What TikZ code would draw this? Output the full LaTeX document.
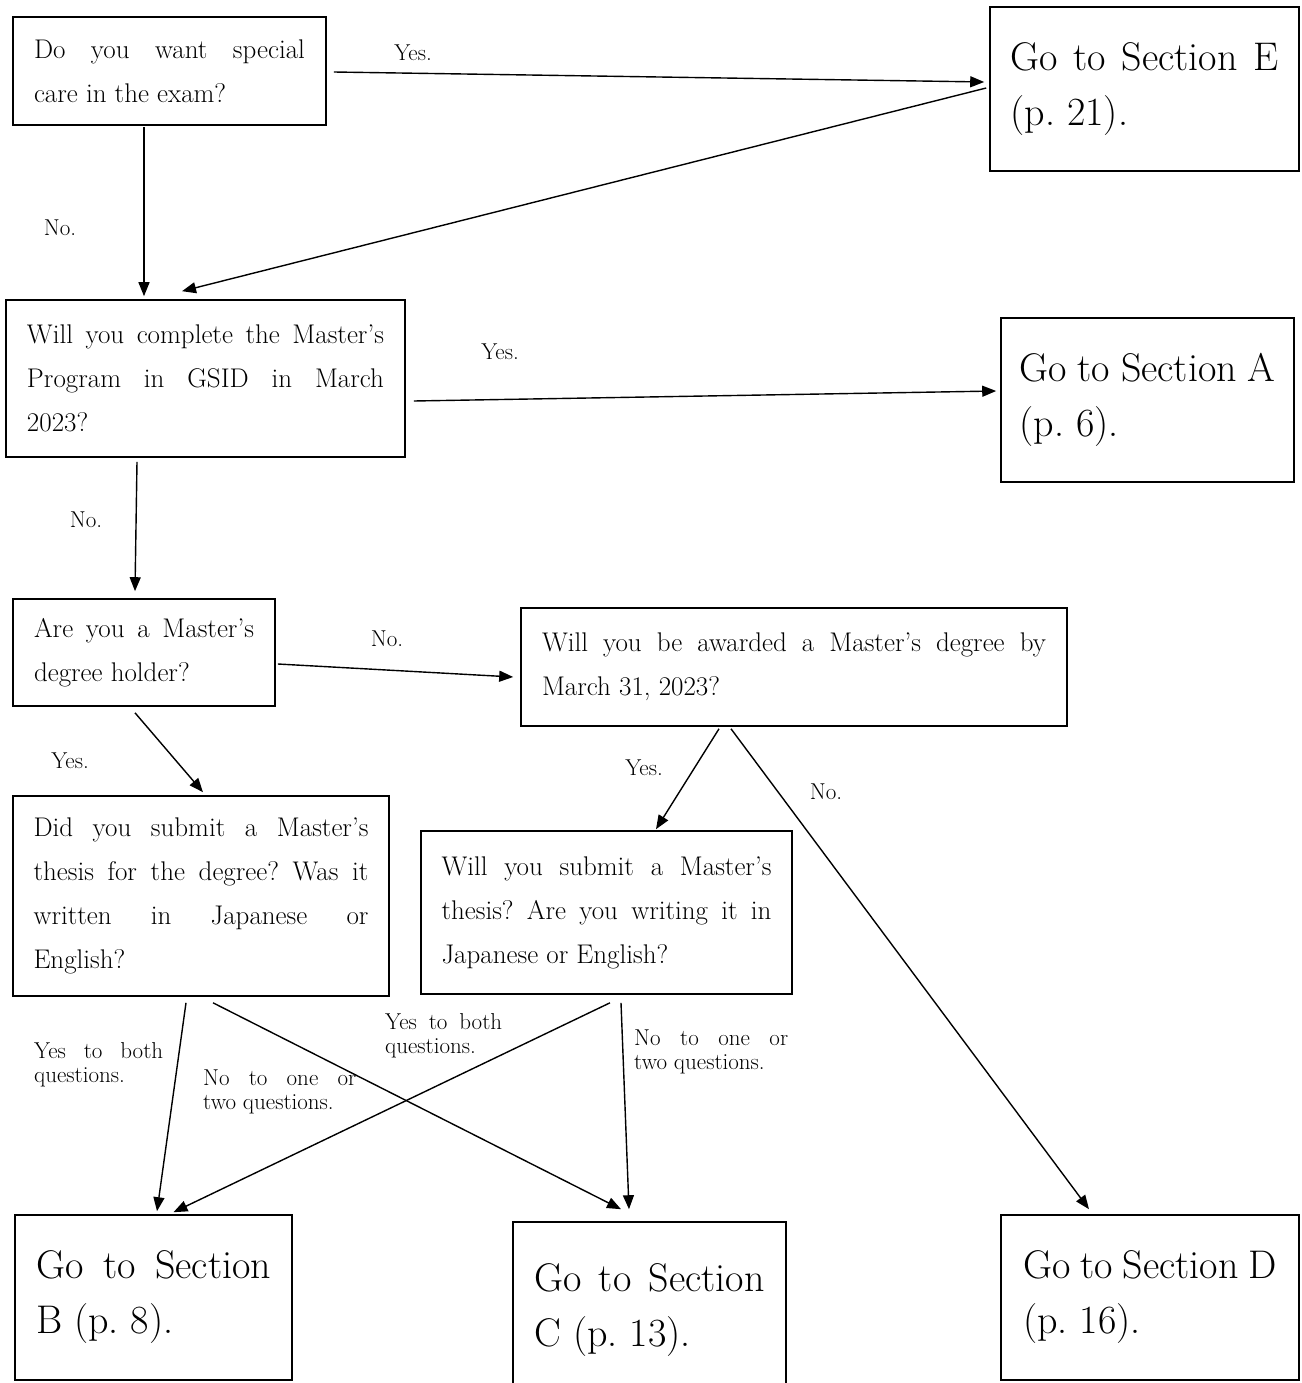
\documentclass[tikz,border=0pt]{standalone}
\usepackage{fontspec}
\usetikzlibrary{arrows.meta,calc}
\hyphenpenalty=10000
\exhyphenpenalty=10000
\frenchspacing

\begin{document}
\begin{tikzpicture}[x=1pt,y=1pt,yscale=-1,xscale=1,
  qbox/.style={draw,line width=1.6pt,align=justify,inner sep=0pt,font=\fontsize{27pt}{44pt}\selectfont\addfontfeatures{FakeBold=1.2}},
  gobox/.style={draw,line width=1.6pt,align=justify,inner sep=0pt,font=\fontsize{40pt}{55pt}\selectfont\addfontfeatures{FakeBold=1.2}},
  lbl/.style={inner sep=0pt,font=\fontsize{23pt}{24pt}\selectfont\addfontfeatures{FakeBold=1.2}},
  arr/.style={line width=1.4pt,-{Triangle[length=14pt,width=11pt]}}]
\useasboundingbox (0,0) rectangle (1301,1383);
\fill[white] (0,0) rectangle (1301,1383);

%Shape: Rectangle [questions]
\node[qbox,minimum width=313pt,minimum height=108pt,text width=271pt] (q1) at (169.5,71) {Do you want special\linebreak care in the exam?};
\node[qbox,minimum width=399pt,minimum height=157pt,text width=357pt] (q2) at (205.5,378.5) {Will you complete the Master's\linebreak Program in GSID in March\linebreak 2023?};
\node[qbox,minimum width=262pt,minimum height=107pt,text width=220pt] (q3) at (144,652.5) {Are you a Master's\linebreak degree holder?};
\node[qbox,minimum width=546pt,minimum height=118pt,text width=504pt] (q4) at (794,667) {Will you be awarded a Master's degree by\linebreak March 31, 2023?};
\node[qbox,minimum width=376pt,minimum height=200pt,text width=335pt] (q5) at (201,896) {Did you submit a Master's\linebreak thesis for the degree? Was it\linebreak written in Japanese or\linebreak English?};
\node[qbox,minimum width=371pt,minimum height=163pt,text width=330pt] (q6) at (606.5,912.5) {Will you submit a Master's\linebreak thesis? Are you writing it in\linebreak Japanese or English?};

%Shape: Rectangle [sections]
\node[gobox,minimum width=309pt,minimum height=164pt,text width=268pt] (secE) at (1144.5,89) {Go to Section E\linebreak (p.~21).};
\node[gobox,minimum width=293pt,minimum height=164pt,text width=256pt] (secA) at (1147.5,400) {Go to Section A\linebreak (p.~6).};
\node[gobox,minimum width=277pt,minimum height=165pt,text width=235pt] (secB) at (153.5,1297.5) {Go to Section\linebreak B (p.~8).};
\node[gobox,minimum width=273pt,minimum height=176pt,text width=230pt] (secC) at (649.5,1310) {Go to Section\linebreak C (p.~13).};
\node[gobox,minimum width=298pt,minimum height=165pt,text width=254pt] (secD) at (1150,1297.5) {Go to Section D\linebreak (p.~16).};

%Straight Lines
\draw[arr] ($(q1.east)+(7,1)$) -- ($(secE.west)+(-5,-7)$);
\draw[arr] ($(secE.west)+(-3,-1)$) -- ($(q2.north)+(-23.5,-8)$);
\draw[arr] ($(q1.south)+(-25.5,1)$) -- ($(q2.north)+(-61.5,-3)$);
\draw[arr] ($(q2.east)+(8,22.5)$) -- ($(secA.west)+(-4,-9)$);
\draw[arr] ($(q2.south)+(-68.5,4)$) -- ($(q3.north)+(-9,-7)$);
\draw[arr] ($(q3.east)+(2,11.5)$) -- ($(q4.west)+(-7,10)$);
\draw[arr] ($(q3.south)+(-9,6)$) -- ($(q5.north)+(2,-3)$);
\draw[arr] ($(q4.south)+(-75,2)$) -- ($(q6.north)+(49.5,-1)$);
\draw[arr] ($(q4.south)+(-63,2)$) -- ($(secD.north)+(-61,-5)$);
\draw[arr] ($(q5.south)+(-15,6)$) -- ($(secB.north)+(3.5,-3)$);
\draw[arr] ($(q5.south)+(12,6)$) -- ($(secC.north)+(-28.5,-12)$);
\draw[arr] ($(q6.south)+(3.5,8)$) -- ($(secB.north)+(20,-2)$);
\draw[arr] ($(q6.south)+(14.5,8)$) -- ($(secC.north)+(-20.5,-12)$);

%Text labels
\node[lbl] (lyes1) at (413,53) {Yes.};
\node[lbl] (lno1) at (60,228) {No.};
\node[lbl] (lyes2) at (500,352) {Yes.};
\node[lbl] (lno2) at (86,520) {No.};
\node[lbl] (lno3) at (387,639) {No.};
\node[lbl] (lyes3) at (70,761) {Yes.};
\node[lbl] (lyes4) at (644,768) {Yes.};
\node[lbl] (lno4) at (826,792) {No.};
\node[lbl,anchor=north west,text width=129pt,align=justify] (lboth1) at (34,1042) {Yes to both\linebreak questions.};
\node[lbl,anchor=north west,text width=153pt,align=justify] (lone1) at (203,1070) {No to one or\linebreak two questions.};
\node[lbl,anchor=north west,text width=117pt,align=justify] (lboth2) at (385,1013) {Yes to both\linebreak questions.};
\node[lbl,anchor=north west,text width=154pt,align=justify] (lone2) at (634,1030) {No to one or\linebreak two questions.};

\end{tikzpicture}
\end{document}
